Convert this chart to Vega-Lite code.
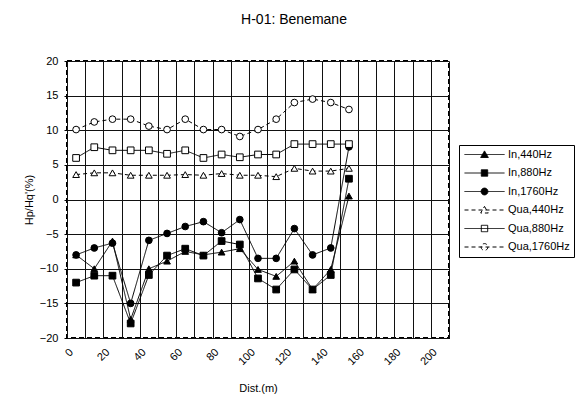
{
"$schema": "https://vega.github.io/schema/vega-lite/v6.json",
"width": 382, "height": 277,
"autosize": {"type": "none"},
"padding": {"left": 67, "top": 61, "right": 129, "bottom": 67},
"background": "white",
"title": {"text": "H-01: Benemane", "font": "Liberation Sans", "fontSize": 14, "fontWeight": "normal", "color": "#000", "anchor": "middle", "frame": "group", "dx": 36, "offset": 28},
"config": {"view": {"stroke": "#000", "strokeWidth": 2, "strokeDash": [5, 3]}, "font": "Liberation Sans"},
"data": {"values": [
{"d":5,"s":"In,440Hz","v":-8},{"d":15,"s":"In,440Hz","v":-10},{"d":25,"s":"In,440Hz","v":-6},{"d":35,"s":"In,440Hz","v":-17.3},{"d":45,"s":"In,440Hz","v":-10},{"d":55,"s":"In,440Hz","v":-8.9},{"d":65,"s":"In,440Hz","v":-7.5},{"d":75,"s":"In,440Hz","v":-8},{"d":85,"s":"In,440Hz","v":-7.6},{"d":95,"s":"In,440Hz","v":-7.1},{"d":105,"s":"In,440Hz","v":-10.1},{"d":115,"s":"In,440Hz","v":-11.1},{"d":125,"s":"In,440Hz","v":-8.9},{"d":135,"s":"In,440Hz","v":-13},{"d":145,"s":"In,440Hz","v":-10.1},{"d":155,"s":"In,440Hz","v":0.5},
{"d":5,"s":"In,880Hz","v":-12},{"d":15,"s":"In,880Hz","v":-11},{"d":25,"s":"In,880Hz","v":-11},{"d":35,"s":"In,880Hz","v":-17.9},{"d":45,"s":"In,880Hz","v":-10.9},{"d":55,"s":"In,880Hz","v":-8.1},{"d":65,"s":"In,880Hz","v":-7.1},{"d":75,"s":"In,880Hz","v":-8.1},{"d":85,"s":"In,880Hz","v":-6},{"d":95,"s":"In,880Hz","v":-6.5},{"d":105,"s":"In,880Hz","v":-11.4},{"d":115,"s":"In,880Hz","v":-13},{"d":125,"s":"In,880Hz","v":-10.1},{"d":135,"s":"In,880Hz","v":-13},{"d":145,"s":"In,880Hz","v":-10.9},{"d":155,"s":"In,880Hz","v":3},
{"d":5,"s":"In,1760Hz","v":-8},{"d":15,"s":"In,1760Hz","v":-7},{"d":25,"s":"In,1760Hz","v":-6.3},{"d":35,"s":"In,1760Hz","v":-15},{"d":45,"s":"In,1760Hz","v":-5.9},{"d":55,"s":"In,1760Hz","v":-4.9},{"d":65,"s":"In,1760Hz","v":-3.9},{"d":75,"s":"In,1760Hz","v":-3.2},{"d":85,"s":"In,1760Hz","v":-4.8},{"d":95,"s":"In,1760Hz","v":-2.9},{"d":105,"s":"In,1760Hz","v":-8.5},{"d":115,"s":"In,1760Hz","v":-8.5},{"d":125,"s":"In,1760Hz","v":-4.2},{"d":135,"s":"In,1760Hz","v":-8},{"d":145,"s":"In,1760Hz","v":-7},{"d":155,"s":"In,1760Hz","v":7.6},
{"d":5,"s":"Qua,440Hz","v":3.6},{"d":15,"s":"Qua,440Hz","v":3.85},{"d":25,"s":"Qua,440Hz","v":3.85},{"d":35,"s":"Qua,440Hz","v":3.5},{"d":45,"s":"Qua,440Hz","v":3.5},{"d":55,"s":"Qua,440Hz","v":3.5},{"d":65,"s":"Qua,440Hz","v":3.6},{"d":75,"s":"Qua,440Hz","v":3.5},{"d":85,"s":"Qua,440Hz","v":3.75},{"d":95,"s":"Qua,440Hz","v":3.5},{"d":105,"s":"Qua,440Hz","v":3.5},{"d":115,"s":"Qua,440Hz","v":3.3},{"d":125,"s":"Qua,440Hz","v":4.5},{"d":135,"s":"Qua,440Hz","v":4.1},{"d":145,"s":"Qua,440Hz","v":4.1},{"d":155,"s":"Qua,440Hz","v":4.5},
{"d":5,"s":"Qua,880Hz","v":6},{"d":15,"s":"Qua,880Hz","v":7.55},{"d":25,"s":"Qua,880Hz","v":7.1},{"d":35,"s":"Qua,880Hz","v":7.1},{"d":45,"s":"Qua,880Hz","v":7.1},{"d":55,"s":"Qua,880Hz","v":6.6},{"d":65,"s":"Qua,880Hz","v":7.1},{"d":75,"s":"Qua,880Hz","v":6},{"d":85,"s":"Qua,880Hz","v":6.5},{"d":95,"s":"Qua,880Hz","v":6.1},{"d":105,"s":"Qua,880Hz","v":6.5},{"d":115,"s":"Qua,880Hz","v":6.5},{"d":125,"s":"Qua,880Hz","v":8},{"d":135,"s":"Qua,880Hz","v":8},{"d":145,"s":"Qua,880Hz","v":8},{"d":155,"s":"Qua,880Hz","v":8},
{"d":5,"s":"Qua,1760Hz","v":10.1},{"d":15,"s":"Qua,1760Hz","v":11.2},{"d":25,"s":"Qua,1760Hz","v":11.6},{"d":35,"s":"Qua,1760Hz","v":11.6},{"d":45,"s":"Qua,1760Hz","v":10.6},{"d":55,"s":"Qua,1760Hz","v":10.1},{"d":65,"s":"Qua,1760Hz","v":11.6},{"d":75,"s":"Qua,1760Hz","v":10.1},{"d":85,"s":"Qua,1760Hz","v":10.1},{"d":95,"s":"Qua,1760Hz","v":9.1},{"d":105,"s":"Qua,1760Hz","v":10.1},{"d":115,"s":"Qua,1760Hz","v":11.6},{"d":125,"s":"Qua,1760Hz","v":14},{"d":135,"s":"Qua,1760Hz","v":14.5},{"d":145,"s":"Qua,1760Hz","v":14},{"d":155,"s":"Qua,1760Hz","v":13}
]},
"encoding": {
  "x": {"field": "d", "type": "quantitative", "scale": {"domain": [0, 210], "nice": false},
    "axis": {"values": [0,10,20,30,40,50,60,70,80,90,100,110,120,130,140,150,160,170,180,190,200,210],
      "labelExpr": "datum.value % 20 === 0 && datum.value <= 200 ? datum.label : ''",
      "labelAngle": -45, "labelFont": "Liberation Sans", "labelFontSize": 11, "labelColor": "#000", "labelPadding": 8,
      "ticks": false, "domain": false, "grid": true, "gridColor": "#111", "gridOpacity": 1, "gridWidth": 1,
      "title": "Dist.(m)", "titleFont": "Liberation Sans", "titleFontSize": 11, "titleFontWeight": "normal", "titleColor": "#000", "titlePadding": 16}},
  "y": {"field": "v", "type": "quantitative", "scale": {"domain": [-20, 20], "nice": false},
    "axis": {"values": [-20,-15,-10,-5,0,5,10,15,20],
      "labelFont": "Liberation Sans", "labelFontSize": 11, "labelColor": "#000", "labelPadding": 6,
      "ticks": true, "tickSize": 3, "tickColor": "#000", "domain": false, "grid": true, "gridColor": "#111", "gridOpacity": 1, "gridWidth": 1,
      "title": "Hp/Hq'(%)", "titleFont": "Liberation Sans", "titleFontSize": 11, "titleFontWeight": "normal", "titleColor": "#000", "titlePadding": 5}}
},
"layer": [
  {"mark": {"type": "line", "color": "#000", "strokeWidth": 1},
   "encoding": {
     "detail": {"field": "s", "type": "nominal"},
     "strokeDash": {"field": "s", "type": "nominal", "scale": {"domain": ["In,440Hz","In,880Hz","In,1760Hz","Qua,440Hz","Qua,880Hz","Qua,1760Hz"], "range": [[1,0],[1,0],[1,0],[4,3],[1,0],[4,3]]}, "legend": null}
   }},
  {"mark": {"type": "point", "stroke": "#000", "strokeWidth": 1, "opacity": 1, "size": 45},
   "encoding": {
     "shape": {"field": "s", "type": "nominal", "scale": {"domain": ["In,440Hz","In,880Hz","In,1760Hz","Qua,440Hz","Qua,880Hz","Qua,1760Hz"], "range": ["triangle-up","square","circle","triangle-up","square","circle"]}, "legend": null},
     "fill": {"field": "s", "type": "nominal", "scale": {"domain": ["In,440Hz","In,880Hz","In,1760Hz","Qua,440Hz","Qua,880Hz","Qua,1760Hz"], "range": ["#000","#000","#000","#fff","#fff","#fff"]}, "legend": null}
   }},
  {"mark": {"type": "point", "strokeWidth": 1, "opacity": 0, "size": 64},
   "encoding": {
     "shape": {"field": "s", "type": "nominal", "scale": {"domain": ["In,440Hz","In,880Hz","In,1760Hz","Qua,440Hz","Qua,880Hz","Qua,1760Hz"], "range": [
        "M-5,0H5M0,-0.9L0.95,0.75L-0.95,0.75Z",
        "M-5,0H5M-0.8,-0.8H0.8V0.8H-0.8Z",
        "M-5,0H5M0.85,0A0.85,0.85,0,1,1,-0.85,0A0.85,0.85,0,1,1,0.85,0Z",
        "M-5,0H5M0,-0.9L0.95,0.75L-0.95,0.75Z",
        "M-5,0H5M-0.8,-0.8H0.8V0.8H-0.8Z",
        "M-5,0H5M0.85,0A0.85,0.85,0,1,1,-0.85,0A0.85,0.85,0,1,1,0.85,0Z"]},
       "legend": {"orient": "none", "legendX": 392, "legendY": 84, "title": null, "strokeColor": "#000", "fillColor": "#fff", "padding": 4, "labelFont": "Liberation Sans", "labelFontSize": 11, "labelColor": "#000", "labelOffset": 18, "rowPadding": 6.5, "symbolSize": 64, "symbolOffset": 16, "symbolOpacity": 1, "symbolStrokeWidth": 1}},
     "fill": {"field": "s", "type": "nominal", "scale": {"domain": ["In,440Hz","In,880Hz","In,1760Hz","Qua,440Hz","Qua,880Hz","Qua,1760Hz"], "range": ["#000","#000","#000","#fff","#fff","#fff"]},
       "legend": {"orient": "none", "legendX": 392, "legendY": 84, "title": null, "strokeColor": "#000", "fillColor": "#fff", "padding": 4, "labelFont": "Liberation Sans", "labelFontSize": 11, "labelColor": "#000", "labelOffset": 18, "rowPadding": 6.5, "symbolSize": 64, "symbolOffset": 16, "symbolOpacity": 1, "symbolStrokeWidth": 1}},
     "stroke": {"field": "s", "type": "nominal", "scale": {"domain": ["In,440Hz","In,880Hz","In,1760Hz","Qua,440Hz","Qua,880Hz","Qua,1760Hz"], "range": ["#000","#000","#000","#000","#000","#000"]},
       "legend": {"orient": "none", "legendX": 392, "legendY": 84, "title": null, "strokeColor": "#000", "fillColor": "#fff", "padding": 4, "labelFont": "Liberation Sans", "labelFontSize": 11, "labelColor": "#000", "labelOffset": 18, "rowPadding": 6.5, "symbolSize": 64, "symbolOffset": 16, "symbolOpacity": 1, "symbolStrokeWidth": 1}},
     "strokeDash": {"field": "s", "type": "nominal", "scale": {"domain": ["In,440Hz","In,880Hz","In,1760Hz","Qua,440Hz","Qua,880Hz","Qua,1760Hz"], "range": [[1,0],[1,0],[1,0],[4,3],[1,0],[4,3]]},
       "legend": {"orient": "none", "legendX": 392, "legendY": 84, "title": null, "strokeColor": "#000", "fillColor": "#fff", "padding": 4, "labelFont": "Liberation Sans", "labelFontSize": 11, "labelColor": "#000", "labelOffset": 18, "rowPadding": 6.5, "symbolSize": 64, "symbolOffset": 16, "symbolOpacity": 1, "symbolStrokeWidth": 1}}
   }}
],
"resolve": {"scale": {"shape": "independent", "fill": "independent", "stroke": "independent", "strokeDash": "independent"}}
}
